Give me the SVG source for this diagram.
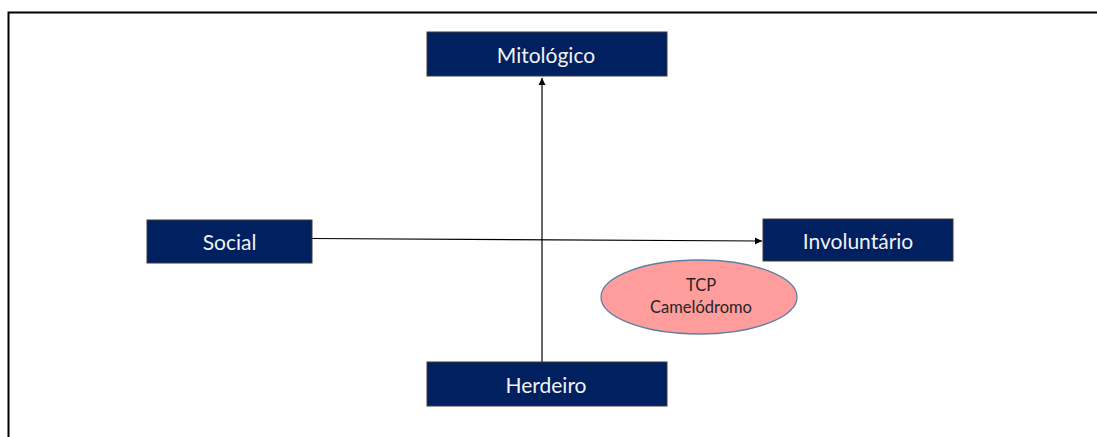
<svg xmlns="http://www.w3.org/2000/svg" width="1097" height="437" viewBox="0 0 1097 437">
<style>
.box{fill:#002060;stroke:#3a3a3a;stroke-width:1}
.lbl{font-family:Lato,"Open Sans","Liberation Sans",sans-serif;font-size:21px;fill:#f2f2f2;text-anchor:middle;dominant-baseline:central}
.conn{stroke:#000;stroke-width:1.2;fill:none}
.el{fill:#ff9c9c;stroke:#5b7fa6;stroke-width:1.3}
.elt{font-family:Lato,"Open Sans","Liberation Sans",sans-serif;font-size:16.5px;fill:#262626;text-anchor:middle;dominant-baseline:central}
</style>
<defs>
<marker id="ah" markerWidth="8" markerHeight="8" refX="7" refY="4" orient="auto" markerUnits="userSpaceOnUse">
<path d="M0,0.5 L7,4 L0,7.5 z" fill="#000"/>
</marker>
</defs>
<rect width="1097" height="437" fill="#fff"/>
<path d="M8.5,437 V12.5 H1097" fill="none" stroke="#000" stroke-width="2"/>
<g id="connectors">
<line class="conn" x1="542" y1="362" x2="542" y2="78" marker-end="url(#ah)"/>
<line class="conn" x1="312" y1="238.5" x2="762" y2="241" marker-end="url(#ah)"/>
</g>
<g id="mitologico">
<rect class="box" x="427" y="32" width="240" height="44"/>
<text class="lbl" x="546" y="54">Mitológico</text>
</g>
<g id="social">
<rect class="box" x="147" y="220" width="165" height="43"/>
<text class="lbl" x="229.5" y="241">Social</text>
</g>
<g id="involuntario">
<rect class="box" x="763" y="219" width="190" height="42"/>
<text class="lbl" x="858" y="240">Involuntário</text>
</g>
<g id="herdeiro">
<rect class="box" x="427" y="362" width="240" height="44"/>
<text class="lbl" x="546" y="384">Herdeiro</text>
</g>
<g id="tcp">
<ellipse class="el" cx="699" cy="297" rx="98" ry="37"/>
<text class="elt" x="701" y="285">TCP</text>
<text class="elt" x="701" y="307">Camelódromo</text>
</g>
</svg>
